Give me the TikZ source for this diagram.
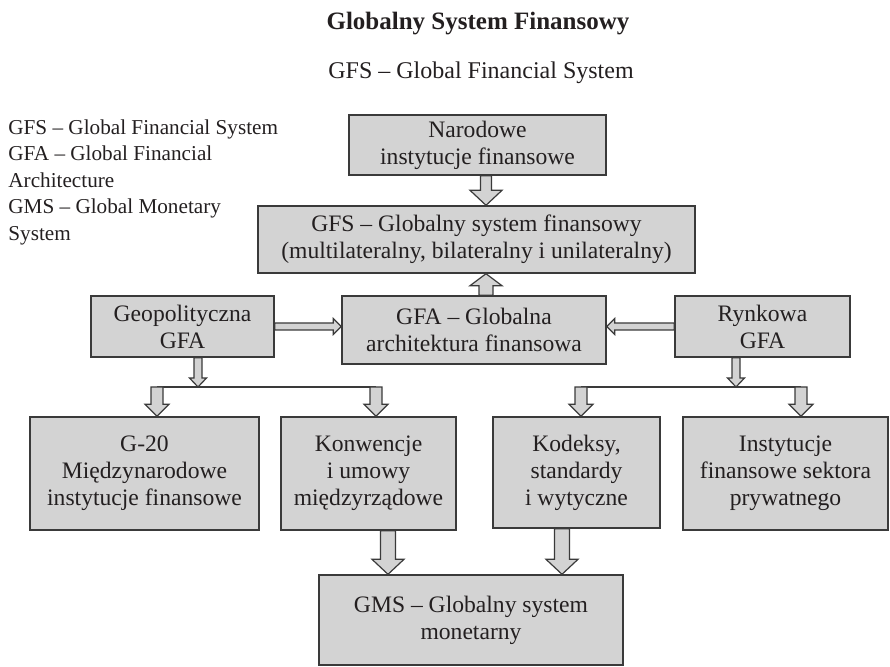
\documentclass[tikz,border=0pt]{standalone}
\usepackage{fontspec}
\setmainfont{Liberation Serif}
\usetikzlibrary{calc}
\definecolor{cbox}{HTML}{D3D3D3}
\definecolor{cline}{HTML}{3A3A3A}
\definecolor{ctext}{HTML}{231F20}
\tikzset{
  box/.style={draw=cline, fill=cbox, line width=0.7pt, inner sep=0pt, align=center, text=ctext, font=\fontsize{11.8}{13.5}\selectfont},
  fatarr/.style={draw=cline, fill=cbox, line width=0.6pt, line join=miter},
  link/.style={draw=cline, line width=0.6pt},
  note/.style={text=ctext, inner sep=0pt},
}
% block arrow: from, to, half shaft, half head, head length
\newcommand{\fatarrow}[5]{%
  \draw[fatarr] ($(#1)!#3!90:(#2)$) -- ($($(#2)!#5!(#1)$)!#3!90:(#2)$)
    -- ($($(#2)!#5!(#1)$)!#4!90:(#2)$) -- (#2)
    -- ($($(#2)!#5!(#1)$)!#4!-90:(#2)$) -- ($($(#2)!#5!(#1)$)!#3!-90:(#2)$)
    -- ($(#1)!#3!-90:(#2)$) -- cycle;}

\begin{document}
\begin{tikzpicture}[x=0.5pt, y=-0.5pt]
  \useasboundingbox (0,0) rectangle (890,667);
  % headings and legend
  \node[note, anchor=base, font=\bfseries\fontsize{12.5}{15}\selectfont] (title) at (478,30) {Globalny System Finansowy};
  \node[note, anchor=base, font=\fontsize{12}{14}\selectfont] (subtitle) at (481,79) {GFS -- Global Financial System};
  \node[note, anchor=north west, align=left, font=\fontsize{10.6}{13.25}\selectfont] (legend) at (8,119)
    {GFS -- Global Financial System\\GFA -- Global Financial\\Architecture\\GMS -- Global Monetary\\System};

  % boxes
  \node[box, minimum width=128.5pt, minimum height=30pt] (nat) at (477.5,145) {Narodowe\\instytucje finansowe};
  \node[box, minimum width=218.5pt, minimum height=33.5pt] (gfs) at (476.5,239.5) {GFS -- Globalny system finansowy\\(multilateralny, bilateralny i unilateralny)};
  \node[box, minimum width=132pt, minimum height=34pt] (gfa) at (474,330) {GFA -- Globalna\\architektura finansowa};
  \node[box, minimum width=91.5pt, minimum height=30.5pt] (geo) at (182.5,326.5) {Geopolityczna\\GFA};
  \node[box, minimum width=87.5pt, minimum height=30.5pt] (ryn) at (762.5,326.5) {Rynkowa\\GFA};
  \node[box, minimum width=114.5pt, minimum height=56.5pt] (g20) at (144.5,473.5) {G-20\\Międzynarodowe\\instytucje finansowe};
  \node[box, minimum width=87.5pt, minimum height=56.5pt] (konw) at (368.5,473.5) {Konwencje\\i umowy\\międzyrządowe};
  \node[box, minimum width=83.5pt, minimum height=55.5pt] (kod) at (576.5,472.5) {Kodeksy,\\standardy\\i wytyczne};
  \node[box, minimum width=102.5pt, minimum height=56.5pt] (inst) at (785.5,473.5) {Instytucje\\finansowe sektora\\prywatnego};
  \node[box, minimum width=152pt, minimum height=45pt] (gms) at (471,620) {GMS -- Globalny system\\monetarny};

  % arrows
  \coordinate (spine) at (486,0);
  \fatarrow{nat.south -| spine}{gfs.north -| spine}{2.75pt}{8pt}{7.5pt}
  \fatarrow{gfa.north -| spine}{gfs.south -| spine}{3.5pt}{8pt}{6pt}
  \fatarrow{geo.east}{gfa.west |- geo.east}{1.75pt}{4pt}{4pt}
  \fatarrow{ryn.west}{gfa.east |- ryn.west}{1.75pt}{4pt}{4pt}

  \coordinate (lsplit) at (198,387);
  \coordinate (lleft) at (157,387);
  \coordinate (lright) at (376,387);
  \draw[link] (lleft) -- (lright);
  \fatarrow{geo.south -| lsplit}{lsplit}{2pt}{4.25pt}{4.5pt}
  \fatarrow{lleft}{g20.north -| lleft}{3pt}{6pt}{6pt}
  \fatarrow{lright}{konw.north -| lright}{3pt}{6pt}{6pt}

  \coordinate (rsplit) at (736,387);
  \coordinate (rleft) at (581,387);
  \coordinate (rright) at (801,387);
  \draw[link] (rleft) -- (rright);
  \fatarrow{ryn.south -| rsplit}{rsplit}{2pt}{4.25pt}{4.5pt}
  \fatarrow{rleft}{kod.north -| rleft}{3pt}{6pt}{6pt}
  \fatarrow{rright}{inst.north -| rright}{3pt}{6pt}{6pt}

  \coordinate (mleft) at (388,0);
  \coordinate (mright) at (562,0);
  \fatarrow{konw.south -| mleft}{gms.north -| mleft}{3.75pt}{8pt}{7.5pt}
  \fatarrow{kod.south -| mright}{gms.north -| mright}{3.75pt}{8pt}{7.5pt}
\end{tikzpicture}
\end{document}
